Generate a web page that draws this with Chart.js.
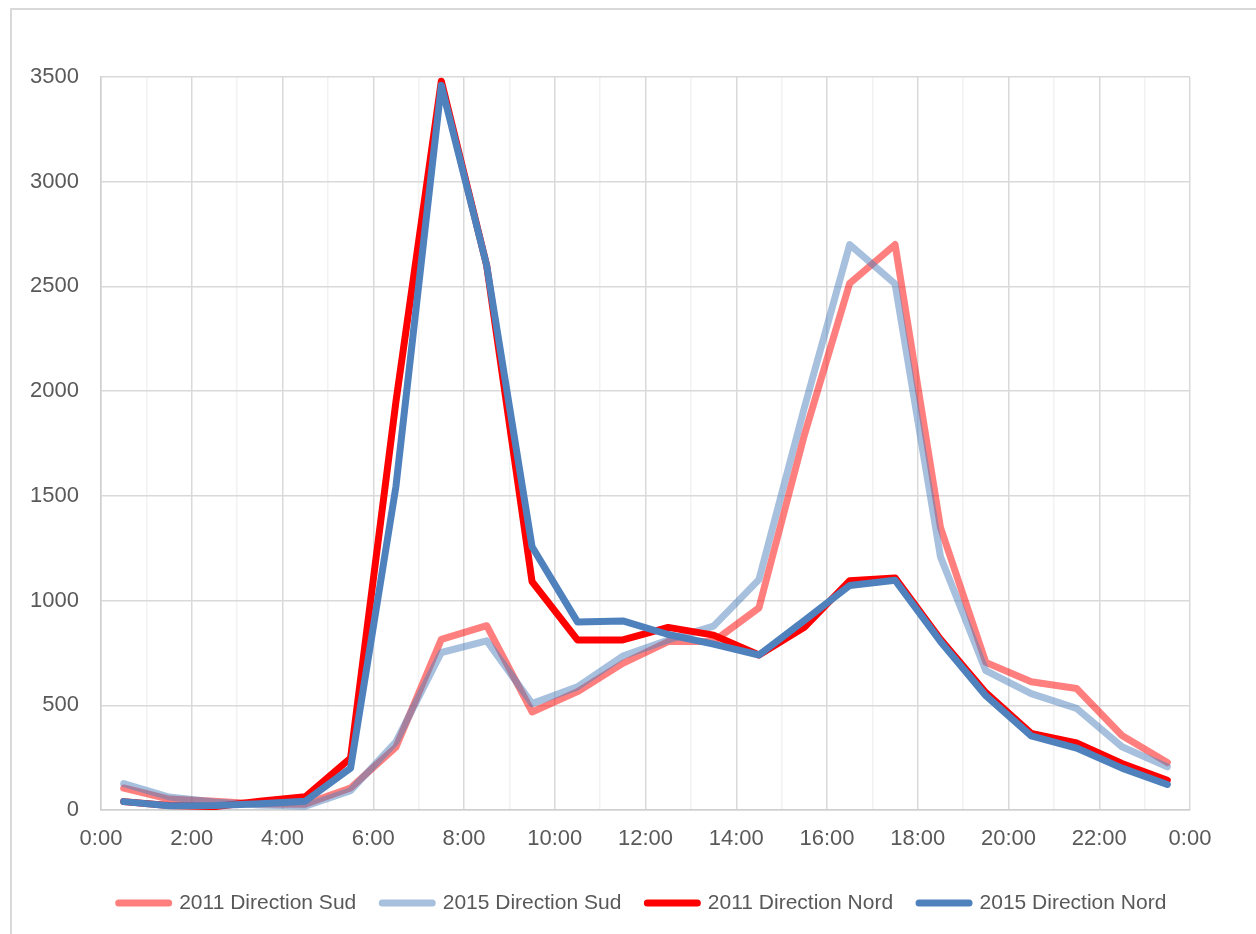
<!DOCTYPE html>
<html>
<head>
<meta charset="utf-8">
<script src="https://cdn.jsdelivr.net/npm/chart.js@4.4.1/dist/chart.umd.min.js"></script>
<style>
  html, body { margin: 0; padding: 0; background: #fff; overflow: hidden; }
  #cadre { position: absolute; left: 10px; top: 8px; width: 1400px; height: 1100px; border: 2px solid #d9d9d9; }
  #myChart { position: absolute; left: 0; top: 0; }
</style>
</head>
<body>
<div id="cadre"></div>
<canvas id="myChart" width="1256" height="934"></canvas>
<script>
// heures (milieu de chaque tranche horaire)
var heures = [0.5, 1.5, 2.5, 3.5, 4.5, 5.5, 6.5, 7.5, 8.5, 9.5, 10.5, 11.5,
              12.5, 13.5, 14.5, 15.5, 16.5, 17.5, 18.5, 19.5, 20.5, 21.5, 22.5, 23.5];

var sud2011  = [105, 52, 42, 29, 28, 105, 300, 815, 880, 468, 565, 700,
                804, 805, 965, 1790, 2515, 2700, 1350, 705, 612, 580, 356, 227];
var sud2015  = [126, 62, 38, 24, 18, 92, 325, 752, 808, 508, 588, 735,
                812, 878, 1100, 1920, 2700, 2512, 1210, 665, 556, 485, 302, 206];
var nord2011 = [40, 22, 16, 42, 63, 248, 1950, 3480, 2600, 1090, 812, 812,
                872, 835, 740, 872, 1095, 1108, 815, 560, 366, 320, 222, 142];
var nord2015 = [40, 20, 22, 30, 42, 200, 1545, 3460, 2600, 1257, 898, 903,
                838, 792, 740, 905, 1072, 1097, 805, 546, 354, 296, 200, 122];

var noms = ['2011 Direction Sud', '2015 Direction Sud', '2011 Direction Nord', '2015 Direction Nord'];
var couleurs = ['rgba(255,0,0,0.5)', 'rgba(79,129,189,0.5)', '#ff0000', '#4f81bd'];

function points(valeurs) {
    return valeurs.map(function(v, i) { return {x: heures[i], y: v}; });
}

function serie(idx, valeurs) {
    return {
        label: noms[idx],
        data: points(valeurs),
        borderColor: couleurs[idx],
        backgroundColor: couleurs[idx],
        borderWidth: 7,
        borderCapStyle: 'round',
        borderJoinStyle: 'round',
        pointRadius: 0,
        tension: 0
    };
}

Chart.defaults.font.family = "'Liberation Sans Narrow', 'Arial Narrow', 'Liberation Sans', Arial, sans-serif";
Chart.defaults.font.size = 22;
Chart.defaults.color = '#595959';

// elargit la boite de la legende (centree comme dans Excel)
var decaleLegende = {
    id: 'decaleLegende',
    afterLayout: function(chart) {
        chart.legend.left = 45;
        chart.legend.right = 1240;
    }
};

const ctx = document.getElementById('myChart').getContext('2d');

// ordre inverse : la derniere serie (2015 Nord) est dessinee au-dessus
myChart = new Chart(ctx, {
    type: 'line',
    data: {
        datasets: [
            serie(3, nord2015),
            serie(2, nord2011),
            serie(1, sud2015),
            serie(0, sud2011)
        ]
    },
    plugins: [decaleLegende],
    options: {
        responsive: false,
        animation: false,
        devicePixelRatio: 1,
        layout: {
            padding: {left: 0, right: 66, top: 77, bottom: 10.5}
        },
        plugins: {
            tooltip: {enabled: false},
            legend: {
                position: 'bottom',
                reverse: true,
                labels: {
                    usePointStyle: true,
                    pointStyle: 'line',
                    pointStyleWidth: 50,
                    padding: 26,
                    color: '#595959',
                    font: {size: 21},
                    generateLabels: function(chart) {
                        var items = Chart.defaults.plugins.legend.labels.generateLabels(chart);
                        items.forEach(function(it) {
                            it.lineCap = 'round';
                            it.lineWidth = 7;
                        });
                        return items;
                    }
                }
            }
        },
        scales: {
            x: {
                type: 'linear',
                min: 0,
                max: 24,
                afterFit: function(scale) { scale.height = 56.5; },
                border: {color: '#cfcfcf', width: 1.5},
                grid: {
                    drawTicks: false,
                    lineWidth: 1.5,
                    color: function(c) {
                        return (c.tick && c.tick.value % 2 === 0) ? '#d9d9d9' : '#f2f2f2';
                    }
                },
                ticks: {
                    stepSize: 1,
                    autoSkip: false,
                    maxRotation: 0,
                    padding: 16,
                    callback: function(v) {
                        return v % 2 === 0 ? (v % 24) + ':00' : '';
                    }
                }
            },
            y: {
                min: 0,
                max: 3500,
                afterFit: function(scale) { scale.width = 101; },
                border: {color: '#cfcfcf', width: 1.5},
                grid: {
                    drawTicks: false,
                    lineWidth: 1.5,
                    color: '#d9d9d9'
                },
                ticks: {
                    stepSize: 500,
                    padding: 22,
                    callback: function(v) { return String(v); }
                }
            }
        }
    }
});
</script>
</body>
</html>
